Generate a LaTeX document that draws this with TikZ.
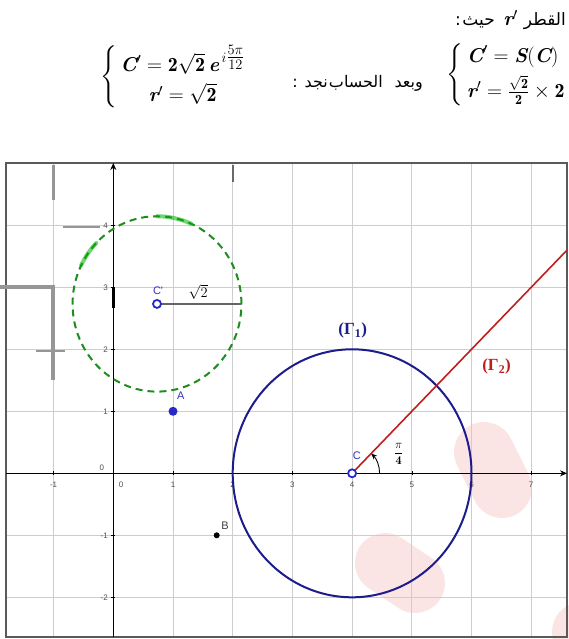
\documentclass[tikz,border=0pt]{standalone}
\usepackage{amsmath}
\usepackage{fontspec}
\usetikzlibrary{arrows.meta}
\newfontfamily\arabicfont[Script=Arabic]{DejaVu Sans}
\newfontfamily\labfont{Liberation Sans}
\newfontfamily\grkfont{Liberation Serif}
\newcommand{\bmi}[1]{\mbox{\bfseries\itshape #1}}
\definecolor{navyc}{RGB}{28,28,140}
\definecolor{redc}{RGB}{190,30,30}
\definecolor{greenc}{RGB}{30,140,30}
\definecolor{gridc}{RGB}{205,205,205}
\definecolor{framec}{RGB}{90,90,90}
\definecolor{ptblue}{RGB}{40,40,200}
\definecolor{labblue}{RGB}{50,50,190}
\definecolor{pinkc}{RGB}{251,228,228}
\definecolor{ticklab}{RGB}{80,80,80}
\definecolor{smudge}{RGB}{150,150,150}
\definecolor{radc}{RGB}{100,100,100}
\tikzset{
 gridline/.style={gridc, line width=0.9pt},
 axisline/.style={black, line width=1.3pt, -{Stealth[length=7pt,width=6pt]}},
 ticklabel/.style={font=\labfont\fontsize{8}{9}\selectfont, text=ticklab, inner sep=0.5pt},
 ptlabel/.style={font=\labfont\fontsize{11}{12}\selectfont, text=labblue, inner sep=0pt},
 opendot/.style={circle, draw=ptblue, line width=1.8pt, fill=white, minimum size=8pt, inner sep=0pt},
 bluedot/.style={circle, fill=ptblue, minimum size=9pt, inner sep=0pt},
 blackdot/.style={circle, fill=black, minimum size=6pt, inner sep=0pt},
 blob/.style={pinkc, line width=60pt, line cap=round},
 artifact/.style={smudge, line width=3pt},
 eqtext/.style={font=\fontsize{20}{24}\selectfont, inner sep=0pt},
 arabtop/.style={font=\arabicfont\fontsize{17}{20}\selectfont, inner sep=0pt},
 arabmid/.style={font=\arabicfont\fontsize{16}{19}\selectfont, inner sep=0pt},
 gammalab/.style={font=\grkfont\bfseries\fontsize{17}{19}\selectfont, inner sep=0pt},
 scribble/.style={green!70!black, opacity=0.55, line width=4pt, line cap=round},
}
\begin{document}
\begin{tikzpicture}[x=1pt,y=-1pt]
\useasboundingbox (0,0) rectangle (568,639);
% ---------- pink blobs ----------
\draw[blob] (484,452) -- (502,488);
\draw[blob] (385,563) -- (415,583);
\draw[blob] (582,632) -- (600,660);
% ---------- graph ----------
\begin{scope}[shift={(113.3,473.3)}, x=59.7pt, y=62pt]
\coordinate (fBL) at (-1.797,-2.64);
\coordinate (fTR) at (7.60,5.005);
\foreach \gx in {-1,...,7} \draw[gridline] (\gx,-2.64) -- (\gx,5.005);
\foreach \gy in {-2,...,4} \draw[gridline] (-1.797,\gy) -- (7.60,\gy);
\draw[framec, line width=1.5pt] (fBL) rectangle (fTR);
\coordinate (xL) at (-1.797,0);
\coordinate (xR) at (7.60,0);
\coordinate (yB) at (0,-2.64);
\coordinate (yT) at (0,5.005);
\draw[axisline] (xL) -- (xR);
\draw[axisline] (yB) -- (yT);
\draw[black, line width=2.6pt] (0,3.0) -- (0,2.66);
\foreach \k in {-1,1,2,3,4,5,6,7} {
  \draw[black, line width=0.6pt] (\k,0) ++(0,-2pt) -- ++(0,4pt);
  \node[ticklabel] (tx\k) at (\k,-0.19) {\k};
}
\node[ticklabel] (tx0) at (0.13,-0.19) {0};
\node[ticklabel] (ty0) at (-0.19,0.09) {0};
\foreach \k in {-2,-1,1,2,3,4} {
  \draw[black, line width=0.6pt] (0,\k) ++(-2pt,0) -- ++(4pt,0);
  \node[ticklabel, anchor=east] (ty\k) at (-0.08,\k) {\k};
}
% circles and ray
\coordinate (cC) at (4,0);
\coordinate (cCp) at (0.732,2.732);
\coordinate (rEnd) at (2.146,2.732);
\coordinate (gEnd) at (7.60,3.60);
\draw[navyc, line width=2pt] (cC) circle [radius=2];
\draw[greenc, line width=2pt, dash pattern=on 7pt off 5pt] (cCp) circle [radius=1.4142];
\draw[scribble] (0.732,2.732) ++(66:1.4142) arc[start angle=66, end angle=90, radius=1.4142];
\draw[scribble] (0.732,2.732) ++(136:1.4142) arc[start angle=136, end angle=154, radius=1.4142];
\draw[radc, line width=1.2pt] (cCp) -- (rEnd);
\draw[redc, line width=1.6pt] (cC) -- (gEnd);
\draw[black, line width=0.9pt, -{Stealth[length=6pt,width=5pt]}] (cC) ++(27.5pt,0) arc[start angle=0, end angle=46, radius=27.5pt];
% points
\node[opendot] (C) at (cC) {};
\node[opendot] (Cp) at (cCp) {};
\node[bluedot] (A) at (1,1) {};
\node[blackdot] (B) at (1.732,-1) {};
% labels
\node[ptlabel] (lC) at (4.08,0.28) {C};
\node[ptlabel] (lCp) at (0.75,2.95) {C'};
\node[ptlabel] (lA) at (1.13,1.25) {A};
\node[font=\labfont\fontsize{11}{12}\selectfont, text=black!75, inner sep=0pt] (lB) at (1.87,-0.84) {B};
\node[font=\fontsize{14}{16}\selectfont, inner sep=0pt] (lr) at (1.42,2.92) {$\sqrt{2}$};
\node[gammalab, text=navyc] (G1) at (4.01,2.30) {(Γ\textsubscript{1})};
\node[gammalab, text=redc] (G2) at (6.42,1.72) {(Γ\textsubscript{2})};
\node[font=\fontsize{12}{14}\selectfont, inner sep=0pt] (ang) at (4.78,0.31) {$\dfrac{\pi}{\mathbf{4}}$};
\end{scope}
% ---------- grey artifacts ----------
\draw[artifact, line width=2.5pt] (53.3,165) -- (53.3,200);
\draw[artifact, line width=2pt] (63,227) -- (100,227);
\draw[artifact, line width=3.5pt] (0,287) -- (53,287) -- (53,380);
\draw[artifact, line width=2.5pt] (36,351) -- (65,351);
\draw[smudge!70!black, line width=1.2pt] (233,165) -- (233,182);
% ---------- header text ----------
\node[arabtop, anchor=base east] (w1) at (566,26) {القطر};
\node[eqtext, anchor=base east] (rr) at (518,26) {\bmi{r}$^{\prime}$};
\node[arabtop, anchor=base east] (w2) at (495,26) {حيث};
\node[arabtop, anchor=base east] (w3) at (461,26) {:};
\node[eqtext, anchor=east] (eqR) at (566,75) {$\left\{\,\begin{array}{@{}l@{}} \bmi{C}^{\prime}=\bmi{S}(\bmi{C})\\[6pt] \bmi{r}^{\prime}=\frac{\sqrt{\mathbf{2}}}{\mathbf{2}}\times\mathbf{2}\end{array}\right.$};
\node[arabmid, anchor=base east] (a1) at (423,88) {وبعد};
\node[arabmid, anchor=base east] (a2) at (383,88) {الحساب};
\node[arabmid, anchor=base east] (a3) at (328,88) {نجد};
\node[arabmid, anchor=base east] (a4) at (298,88) {:};
\node[eqtext, anchor=west] (eqL) at (100,77) {$\left\{\,\begin{array}{@{}c@{}} \bmi{C}^{\prime}=\mathbf{2}\sqrt{\mathbf{2}}\,\bmi{e}^{\,i\tfrac{5\pi}{12}}\\[4pt] \bmi{r}^{\prime}=\sqrt{\mathbf{2}}\end{array}\right.$};
\end{tikzpicture}
\end{document}
